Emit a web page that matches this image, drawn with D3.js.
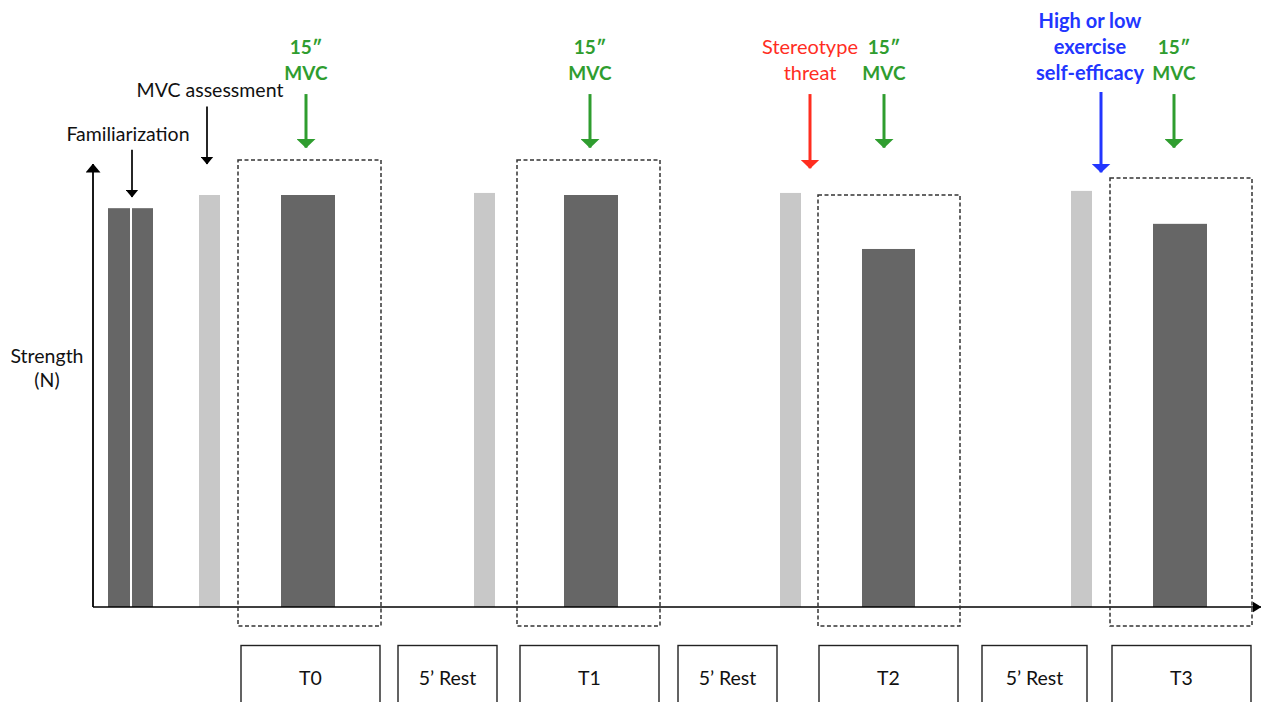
<!DOCTYPE html>
<html><head><meta charset="utf-8">
<script src="https://cdn.jsdelivr.net/npm/d3@7"></script>
<style>html,body{margin:0;padding:0;background:#fff;}svg{display:block;}</style>
</head><body>
<svg id="c" width="1261" height="702"></svg>
<script>
// Timeline (arbitrary time units) and strength (% of baseline MVC)
const barNames   = ["Fam 1","Fam 2","MVC assessment","T0","Pre T1","T1","Pre T2","T2","Pre T3","T3"];
const barStart   = [1.5, 3.9, 10.6, 18.8, 38.1, 47.1, 68.7, 76.9, 97.8, 106.0];
const barEnd     = [3.7, 6.0, 12.7, 24.2, 40.2, 52.5, 70.8, 82.2, 99.9, 111.4];
const barValues  = [96.8, 96.8, 100, 100, 100.5, 100, 100.5, 86.9, 101, 93];
const barKind    = ["test","test","warm","test","warm","test","warm","test","warm","test"];

const phaseLabels = ["T0","5\u2019 Rest","T1","5\u2019 Rest","T2","5\u2019 Rest","T3"];
const phaseStart  = [14.8, 30.5, 42.7, 58.5, 72.6, 88.9, 101.9];
const phaseEnd    = [28.7, 40.4, 56.6, 68.4, 86.5, 99.4, 115.8];

const windowLabels = ["T0","T1","T2","T3"];
const windowStart  = [14.5, 42.4, 72.5, 101.7];
const windowEnd    = [28.8, 56.7, 86.7, 115.9];
const windowTop    = [108.5, 108.5, 100, 104.1];

const eventLines  = [["Familiarization"],["MVC assessment"],["15\u2033","MVC"],["15\u2033","MVC"],["Stereotype","threat"],["15\u2033","MVC"],["High or low","exercise","self-efficacy"],["15\u2033","MVC"]];
const eventTime   = [3.9, 11.4, 21.3, 49.7, 71.7, 79.1, 100.8, 108.1];
const eventLabelAt= [3.5, 11.7, 21.3, 49.7, 71.7, 79.1, 99.7, 108.1];
const eventFrom   = [111, 121.5, 124.5, 124.5, 124.5, 124.5, 125, 124.5];
const eventTo     = [99.5, 107.5, 111.5, 111.5, 106.5, 111.5, 105.5, 111.5];
const eventType   = ["plain","plain","mvc","mvc","threat","mvc","efficacy","mvc"];

const svg = d3.select("#c");
const x = d3.scaleLinear().domain([0, 116.8]).range([93, 1261]);
const y = d3.scaleLinear().domain([0, 100]).range([607, 195]);
const font = "Lato, 'Open Sans', sans-serif";
const colors = {plain:"#000", mvc:"#2f9d2f", threat:"#ff2d1f", efficacy:"#2236ff"};
const headSize = {plain:[8,13], mvc:[9,19], threat:[9,19], efficacy:[9,19]};

const defs = svg.append("defs");
Object.entries(colors).forEach(([k,c]) => {
  const [len, wid] = headSize[k];
  defs.append("marker").attr("id","ah-"+k).attr("viewBox",`0 0 ${len} ${wid}`).attr("refX",len-0.5).attr("refY",wid/2)
    .attr("markerWidth",len).attr("markerHeight",wid).attr("markerUnits","userSpaceOnUse").attr("orient","auto")
    .append("path").attr("d",`M0,0L${len},${wid/2}L0,${wid}z`).attr("fill",c);
});
[["ah-yaxis",9,15],["ah-xaxis",9,11]].forEach(([id,len,wid]) => {
  defs.append("marker").attr("id",id).attr("viewBox",`0 0 ${len} ${wid}`).attr("refX",len-0.5).attr("refY",wid/2)
    .attr("markerWidth",len).attr("markerHeight",wid).attr("markerUnits","userSpaceOnUse").attr("orient","auto")
    .append("path").attr("d",`M0,0L${len},${wid/2}L0,${wid}z`).attr("fill","#000");
});

// bars
svg.append("g").selectAll("rect").data(barNames).join("rect")
  .attr("x",(d,i)=>x(barStart[i])).attr("width",(d,i)=>x(barEnd[i])-x(barStart[i]))
  .attr("y",(d,i)=>y(barValues[i])).attr("height",(d,i)=>y(0)-y(barValues[i]))
  .attr("fill",(d,i)=>barKind[i]==="test"?"#666666":"#c8c8c8");

// axes
svg.append("line").attr("x1",x(0)).attr("y1",y(0)).attr("x2",x(0)).attr("y2",y(107.5))
  .attr("stroke","#000").attr("stroke-width",1.8).attr("marker-end","url(#ah-yaxis)");
svg.append("line").attr("x1",x(0)).attr("y1",y(0)).attr("x2",x(116.8)).attr("y2",y(0))
  .attr("stroke","#000").attr("stroke-width",1.5).attr("marker-end","url(#ah-xaxis)");

// dashed windows
svg.append("g").selectAll("rect").data(windowLabels).join("rect")
  .attr("x",(d,i)=>x(windowStart[i])).attr("width",(d,i)=>x(windowEnd[i])-x(windowStart[i]))
  .attr("y",(d,i)=>y(windowTop[i])).attr("height",(d,i)=>y(-4.6)-y(windowTop[i]))
  .attr("fill","none").attr("stroke","#333").attr("stroke-width",1.5).attr("stroke-dasharray","4,2.5");

// phase boxes
const pg = svg.append("g").selectAll("g").data(phaseLabels).join("g");
pg.append("rect").attr("x",(d,i)=>x(phaseStart[i])).attr("width",(d,i)=>x(phaseEnd[i])-x(phaseStart[i]))
  .attr("y",645.5).attr("height",70).attr("fill","none").attr("stroke","#222").attr("stroke-width",1.4);
pg.append("text").attr("x",(d,i)=>(x(phaseStart[i])+x(phaseEnd[i]))/2).attr("y",685)
  .attr("text-anchor","middle").attr("font-family",font).attr("font-size",19.5).attr("fill","#111").text(d=>d);

// y label
svg.append("text").attr("text-anchor","middle").attr("font-family",font).attr("font-size",19.5).attr("fill","#111")
  .selectAll("tspan").data(["Strength","(N)"]).join("tspan").attr("x",47).attr("y",(d,i)=>363+i*24).text(d=>d);

// events
const eg = svg.append("g").selectAll("g").data(eventLines).join("g");
eg.append("line").attr("x1",(d,i)=>x(eventTime[i])).attr("x2",(d,i)=>x(eventTime[i]))
  .attr("y1",(d,i)=>y(eventFrom[i])).attr("y2",(d,i)=>y(eventTo[i]))
  .attr("stroke",(d,i)=>colors[eventType[i]]).attr("stroke-width",(d,i)=>eventType[i]==="plain"?1.7:3)
  .attr("marker-end",(d,i)=>"url(#ah-"+eventType[i]+")");
eg.each(function(lines,i){
  const t = eventType[i];
  const n = lines.length;
  const baseY = t==="plain" ? (i===0 ? 141 : 97) : 80 - (n-1)*26;
  const tx = d3.select(this).append("text").attr("text-anchor","middle").attr("font-family",font)
    .attr("font-size", t==="plain"?19.5:(t==="mvc"?19:20)).attr("font-weight", (t==="mvc"||t==="efficacy")?700:400)
    .attr("fill", t==="plain"?"#111":colors[t]);
  tx.selectAll("tspan").data(lines).join("tspan").attr("x",x(eventLabelAt[i])).attr("y",(d,k)=>baseY+k*26).text(d=>d);
});
</script>
</body></html>
